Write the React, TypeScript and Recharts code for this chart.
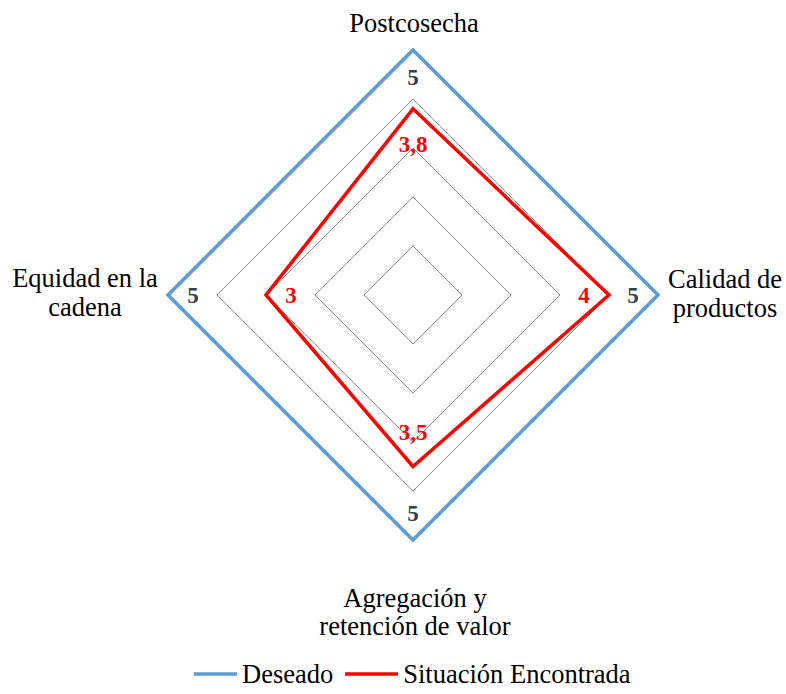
import { RadarChart, Radar, PolarGrid, PolarAngleAxis, PolarRadiusAxis } from "recharts";

const categories = [
  "Postcosecha",
  "Calidad de\nproductos",
  "Agregación y\nretención de valor",
  "Equidad en la\ncadena",
];
const deseado = [5, 5, 5, 5];
const situacion = [3.8, 4, 3.5, 3];
const radiusTicks = [0, 1, 2, 3, 4, 5];

const seriesNames = ["Deseado", "Situación Encontrada"];
const BLUE = "#5b9bd5";
const RED = "#ff0000";
const FONT = "Liberation Serif, DejaVu Serif, serif";

const W = 786;
const H = 694;
const CX = 413;
const CY = 295;
const R = 245;

const data = categories.map((c, i) => ({
  category: c,
  deseado: deseado[i],
  situacion: situacion[i],
}));

const fmt = (v: number) => String(v).replace(".", ",");

// value label drawn inside the vertex, pushed toward the center
function ValueLabel(props: any) {
  const { cx, cy, index, values, color, vOff } = props;
  if (cx == null || cy == null) return null;
  const dx = cx - CX;
  const dy = cy - CY;
  const len = Math.hypot(dx, dy) || 1;
  const vertical = Math.abs(dy) > Math.abs(dx);
  const off = vertical ? vOff : 25;
  const x = cx - (dx / len) * off;
  const y = cy - (dy / len) * off;
  return (
    <text
      key={`lbl-${index}`}
      x={x}
      y={y + 8}
      textAnchor="middle"
      fill={color}
      style={{ fontFamily: FONT }}
      fontWeight="bold"
      fontSize={23}
    >
      {fmt(values[index])}
    </text>
  );
}

function AxisTick(props: any) {
  const { x, y, payload } = props;
  const dx = x - CX;
  const dy = y - CY;
  const lines = String(payload.value).split("\n");
  let tx = CX;
  let ty = CY;
  let lh = 29;
  if (Math.abs(dy) > Math.abs(dx)) {
    if (dy < 0) {
      tx = CX + 1;
      ty = CY - R - 18;
    } else {
      tx = CX + 2;
      ty = CY + R + 67;
      lh = 28;
    }
  } else if (dx > 0) {
    tx = CX + R + 67;
    ty = CY - 7;
  } else {
    tx = CX - R - 83;
    ty = CY - 8;
  }
  return (
    <text textAnchor="middle" fill="#000" style={{ fontFamily: FONT }} fontSize={26.5}>
      {lines.map((l, i) => (
        <tspan key={i} x={tx} y={ty + i * lh}>
          {l}
        </tspan>
      ))}
    </text>
  );
}

export default function App() {
  return (
    <div style={{ position: "absolute", left: 0, top: 0, width: W, height: H, background: "#fff" }}>
      <RadarChart
        width={W}
        height={H}
        data={data}
        cx={CX}
        cy={CY}
        outerRadius={R}
        margin={{ top: 0, right: 0, bottom: 0, left: 0 }}
      >
        <PolarGrid gridType="polygon" radialLines={false} stroke="#8c8c8c" strokeWidth={1} />
        <PolarAngleAxis dataKey="category" tick={<AxisTick />} axisLine={false} tickLine={false} />
        <PolarRadiusAxis domain={[0, 5]} ticks={radiusTicks as any} tickCount={6} tick={false} axisLine={false} />
        <Radar
          name={seriesNames[0]}
          dataKey="deseado"
          stroke={BLUE}
          strokeWidth={3.5}
          fill="none"
          fillOpacity={0}
          isAnimationActive={false}
          dot={(p: any) => (
            <ValueLabel key={`d-${p.index}`} {...p} values={deseado} color="#333f50" vOff={27} />
          )}
        />
        <Radar
          name={seriesNames[1]}
          dataKey="situacion"
          stroke={RED}
          strokeWidth={3.5}
          fill="none"
          fillOpacity={0}
          isAnimationActive={false}
          dot={(p: any) => (
            <ValueLabel key={`s-${p.index}`} {...p} values={situacion} color={RED} vOff={35} />
          )}
        />
      </RadarChart>
      <div
        style={{
          position: "absolute",
          left: 194,
          top: 662,
          display: "flex",
          alignItems: "center",
          fontFamily: FONT,
          fontSize: 26.5,
          color: "#000",
          lineHeight: "24px",
          whiteSpace: "nowrap",
        }}
      >
        {seriesNames.map((n, i) => (
          <div key={n} style={{ display: "flex", alignItems: "center", marginRight: 12 }}>
            <svg width={i === 0 ? 43 : 53} height={6} style={{ marginRight: 5 }}>
              <line x1={0} y1={3} x2={i === 0 ? 43 : 53} y2={3} stroke={i === 0 ? BLUE : RED} strokeWidth={3.5} />
            </svg>
            <span>{n}</span>
          </div>
        ))}
      </div>
    </div>
  );
}
